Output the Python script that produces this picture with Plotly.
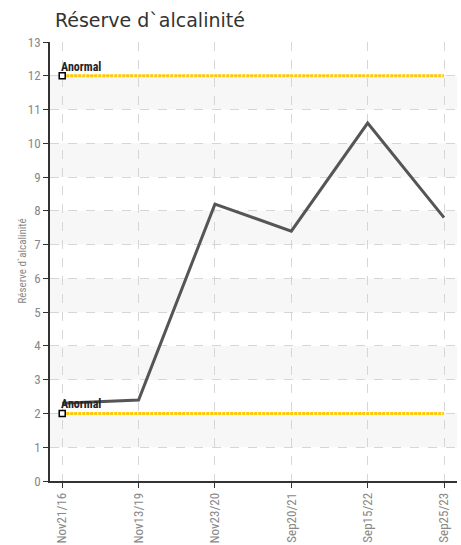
import plotly.graph_objects as go

categories = ["Nov21/16", "Nov13/19", "Nov23/20", "Sep20/21", "Sep15/22", "Sep25/23"]
values = [2.3, 2.4, 8.2, 7.4, 10.6, 7.8]
thresholds = [12, 2]
threshold_labels = ["Anormal", "Anormal"]
y_ticks = list(range(0, 14))
title = "Réserve d`alcalinité"

cond = "Roboto Condensed, Liberation Sans Narrow, Roboto, sans-serif"

fig = go.Figure()

# alternating bands
shapes = []
for lo in range(1, 13, 2):
    shapes.append(dict(type="rect", xref="paper", yref="y", x0=0, x1=1, y0=lo, y1=lo + 1,
                       fillcolor="#f7f7f7", line=dict(width=0), layer="below"))

fig.add_trace(go.Scatter(x=categories, y=values, mode="lines",
                         line=dict(color="#555555", width=3), showlegend=False))

# threshold lines
for t in thresholds:
    fig.add_trace(go.Scatter(x=[categories[0], categories[-1]], y=[t, t], mode="lines",
                             line=dict(color="#FFC800", width=3, dash="3px,1px"),
                             hoverinfo="skip", showlegend=False))

for t, lab in zip(thresholds, threshold_labels):
    fig.add_trace(go.Scatter(x=[categories[0]], y=[t], mode="markers",
                             marker=dict(symbol="square", size=6, color="white",
                                         line=dict(color="black", width=1.5)),
                             showlegend=False, hoverinfo="skip"))
    fig.add_annotation(x=categories[0], y=t, text="<b>" + lab + "</b>", showarrow=False,
                       xanchor="left", yanchor="bottom", xshift=-3, yshift=0,
                       font=dict(family=cond, size=12, color="#222"))

# y-axis title
fig.add_annotation(xref="paper", yref="paper", x=0, y=0.5, xshift=-28, text=title,
                   textangle=-90, showarrow=False, xanchor="center", yanchor="middle",
                   font=dict(family=cond, size=11, color="#888"))

fig.update_layout(
    width=461, height=545,
    margin=dict(l=50, r=4, t=42, b=64),
    plot_bgcolor="white", paper_bgcolor="white",
    shapes=shapes,
    title=dict(text=title, x=0.012, xref="paper", xanchor="left", y=0.963, yanchor="middle",
               font=dict(family="DejaVu Sans, Verdana, sans-serif", size=19, color="#333")),
    xaxis=dict(type="category", categoryorder="array", categoryarray=categories,
               range=[-0.16, 5.17], showline=True, linecolor="#333", automargin=False,
               linewidth=1.5, ticks="outside", ticklen=5, tickcolor="#333",
               tickangle=-90, tickfont=dict(family=cond, size=13, color="#888"),
               showgrid=True, gridcolor="#d6d6d6", griddash="dash", gridwidth=1,
               zeroline=False),
    yaxis=dict(range=[0, 13], tickvals=y_ticks, showline=True, linecolor="#333",
               automargin=False,
               linewidth=1.5, ticks="outside", ticklen=5, tickcolor="#333",
               tickfont=dict(family=cond, size=13, color="#888"),
               showgrid=True, gridcolor="#d6d6d6", griddash="dash", gridwidth=1,
               zeroline=False),
)

fig.write_html("out.html", config={"displayModeBar": False},
               post_script="document.body.style.margin='0';document.body.style.overflow='hidden';")
